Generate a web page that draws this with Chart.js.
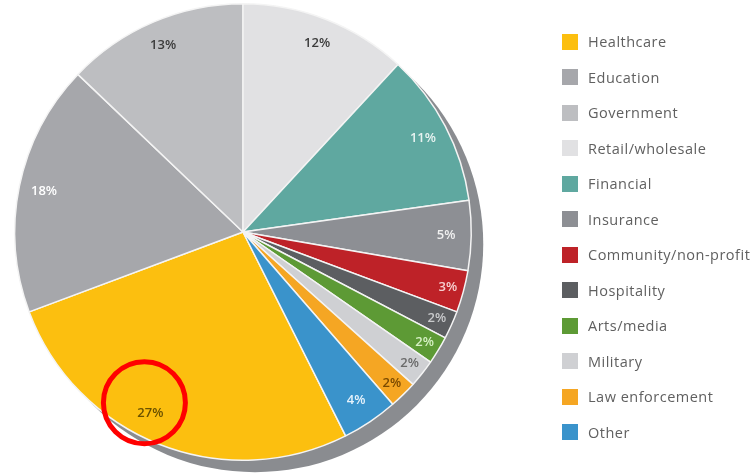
<!DOCTYPE html>
<html>
<head>
<meta charset="utf-8">
<script src="https://cdn.jsdelivr.net/npm/chart.js@4.4.1/dist/chart.umd.min.js"></script>
<style>
  html,body{margin:0;padding:0;background:#fff;overflow:hidden;}
  #wrap{position:relative;width:755px;height:474px;overflow:hidden;}
  #chart{position:absolute;left:0;top:0;}
  #legend{position:absolute;left:562px;top:24px;font-family:"Open Sans",sans-serif;font-size:14.5px;letter-spacing:0.5px;color:#606060;white-space:nowrap;}
  .li{display:flex;align-items:center;height:35.5px;}
  .li span.box{display:inline-block;width:16px;height:16px;margin-right:10px;flex:none;}
</style>
</head>
<body>
<div id="wrap">
  <canvas id="chart" width="755" height="474"></canvas>
  <div id="legend"></div>
</div>
<script>
/* dados do gráfico */
const labels = ['Healthcare','Education','Government','Retail/wholesale','Financial','Insurance',
                'Community/non-profit','Hospitality','Arts/media','Military','Law enforcement','Other'];
const shares = [27, 18, 13, 12, 11, 5, 3, 2, 2, 2, 2, 4];

/* cores */
const sliceColors = ['#fcbf0f','#a6a7ab','#bdbec1','#e1e1e3','#5fa8a0','#8d8f94',
                     '#be2228','#5c5e61','#5d9a35','#cfd0d3','#f5a623','#3a93cb'];
const textColors  = ['#6b5200','#ffffff','#3c3c3c','#3c3c3c','#e8f3f1','#f0f0f0',
                     '#f6d0d0','#c9cacc','#d6f0c4','#6a6a6a','#7a4a00','#e6f2fb'];

const total = shares.reduce((a,b)=>a+b,0);
// Retail/wholesale começa às 12h -> Healthcare começa depois dos 3 primeiros
const rotation = 360 * (1 - (shares[0]+shares[1]+shares[2]) / total);

/* legenda html */
const leg = document.getElementById('legend');
labels.forEach((l,i)=>{
  const d = document.createElement('div');
  d.className = 'li';
  d.innerHTML = `<span class="box" style="background:${sliceColors[i]}"></span>${l}`;
  leg.appendChild(d);
});

/* sombra + rótulos + círculo vermelho */
const pieExtras = {
  id:'pieExtras',
  beforeDatasetsDraw(chart){
    const a = chart.getDatasetMeta(0).data[0];
    const ctx = chart.ctx;
    ctx.save();
    ctx.fillStyle = '#8a8c90';
    ctx.beginPath();
    ctx.arc(a.x+12, a.y+12, a.outerRadius, 0, Math.PI*2);
    ctx.fill();
    ctx.restore();
  },
  afterDatasetsDraw(chart){
    const ctx = chart.ctx;
    const arcs = chart.getDatasetMeta(0).data;
    ctx.save();
    ctx.font = '600 13px "Open Sans", sans-serif';
    ctx.textAlign = 'center';
    ctx.textBaseline = 'middle';
    arcs.forEach((a,i)=>{
      let mid = (a.startAngle + a.endAngle)/2;
      if(i === 0) mid += 0.1; // rótulo de 27% um pouco à esquerda
      const fr = shares[i] <= 3 ? 0.93 : 0.89;
      const tx = a.x + Math.cos(mid)*a.outerRadius*fr;
      const ty = a.y + Math.sin(mid)*a.outerRadius*fr;
      ctx.fillStyle = textColors[i];
      ctx.fillText(shares[i] + '%', tx, ty);
      if(i === 0){
        ctx.strokeStyle = '#ff0000';
        ctx.lineWidth = 5;
        ctx.beginPath();
        ctx.arc(tx-6, ty-10, 41, 0, Math.PI*2);
        ctx.stroke();
      }
    });
    ctx.restore();
  }
};

new Chart(document.getElementById('chart').getContext('2d'), {
  type: 'pie',
  data: {
    labels: labels,
    datasets: [{
      data: shares,
      backgroundColor: sliceColors,
      borderColor: '#f4f4f4',
      borderWidth: 1.5
    }]
  },
  options: {
    responsive: false,
    animation: false,
    rotation: rotation,
    layout: { padding: { left: 13, top: 3, right: 282, bottom: 13 } },
    plugins: { legend: { display: false }, tooltip: { enabled: false } }
  },
  plugins: [pieExtras]
});
</script>
</body>
</html>
